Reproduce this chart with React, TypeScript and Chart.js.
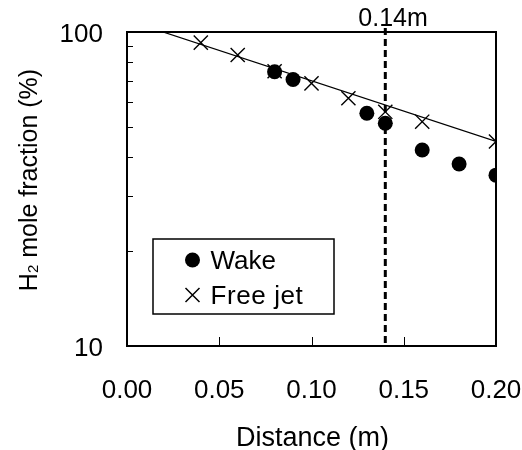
import React, { useEffect, useRef } from "react";
import { Chart, registerables } from "chart.js";

Chart.register(...registerables);

// ---- data ----
const wakeX = [0.08, 0.09, 0.13, 0.14, 0.16, 0.18, 0.2];
const wakeY = [74.7, 70.6, 55.1, 51.2, 42.1, 38.0, 35.0];
const jetX = [0.04, 0.06, 0.08, 0.1, 0.12, 0.14, 0.16, 0.2];
const jetY = [92.5, 84.5, 75.0, 68.6, 61.5, 55.7, 51.8, 44.8];
const fitX = [0.0195, 0.2];
const fitY = [100, 44.8];
const yLabelValues = [10, 100];
const yMinorTicks = [20, 30, 40, 50, 60, 70, 80, 90];
const xTickValues = [0.05, 0.1, 0.15];
const markerX = 0.14;
const markerLabel = "0.14m";
const legendLabels = ["Wake", "Free jet"];
const xTitle = "Distance (m)";
const yTitleMain = "H";
const yTitleSub = "2";
const yTitleRest = " mole fraction (%)";

const FONT = '"Liberation Sans", Arial, sans-serif';

const overlayPlugin = {
  id: "overlay",
  beforeDatasetsDraw(chart: any) {
    const { ctx, chartArea } = chart;
    const xs = chart.scales.x;
    const px = xs.getPixelForValue(markerX);
    ctx.save();
    ctx.strokeStyle = "#000";
    ctx.lineWidth = 3;
    ctx.setLineDash([7, 4]);
    ctx.beginPath();
    ctx.moveTo(px, chartArea.top - 4);
    ctx.lineTo(px, chartArea.bottom);
    ctx.stroke();
    ctx.restore();
  },
  afterDraw(chart: any) {
    const { ctx, chartArea } = chart;
    const xs = chart.scales.x;
    const ys = chart.scales.y;
    const { left, right, top, bottom } = chartArea;
    ctx.save();
    // frame
    ctx.strokeStyle = "#000";
    ctx.lineWidth = 2;
    ctx.strokeRect(left, top, right - left, bottom - top);
    // inward ticks
    ctx.lineWidth = 1;
    ctx.beginPath();
    yMinorTicks.forEach((v) => {
      const y = Math.round(ys.getPixelForValue(v)) + 0.5;
      ctx.moveTo(left, y);
      ctx.lineTo(left + 6, y);
    });
    xTickValues.forEach((v) => {
      const x = Math.round(xs.getPixelForValue(v)) + 0.5;
      ctx.moveTo(x, bottom);
      ctx.lineTo(x, bottom - 9);
    });
    ctx.stroke();

    // marker label
    const mx = xs.getPixelForValue(markerX);
    ctx.fillStyle = "#000";
    ctx.font = `25px ${FONT}`;
    ctx.textAlign = "left";
    ctx.textBaseline = "alphabetic";
    ctx.fillText(markerLabel, mx - 27, 26);

    // legend
    ctx.lineWidth = 1.5;
    ctx.strokeRect(153, 239, 181, 75);
    ctx.beginPath();
    ctx.arc(192.5, 260, 7.5, 0, Math.PI * 2);
    ctx.fill();
    ctx.beginPath();
    ctx.moveTo(185.5, 288);
    ctx.lineTo(199.5, 302);
    ctx.moveTo(199.5, 288);
    ctx.lineTo(185.5, 302);
    ctx.stroke();
    ctx.font = `26px ${FONT}`;
    ctx.fillText(legendLabels[0], 210.5, 269);
    (ctx as any).letterSpacing = "0.6px";
    ctx.fillText(legendLabels[1], 210.5, 304);
    (ctx as any).letterSpacing = "0px";

    // x title
    ctx.font = `27px ${FONT}`;
    ctx.textAlign = "center";
    ctx.fillText(xTitle, 312.5, 446);

    // y title with subscript
    ctx.save();
    ctx.translate(36.7, 180);
    ctx.rotate(-Math.PI / 2);
    ctx.textAlign = "left";
    const mainFont = `25px ${FONT}`;
    const subFont = `15px ${FONT}`;
    ctx.font = mainFont;
    const wH = ctx.measureText(yTitleMain).width;
    const wRest = ctx.measureText(yTitleRest).width;
    ctx.font = subFont;
    const wSub = ctx.measureText(yTitleSub).width;
    const total = wH + wSub + wRest;
    let x0 = -total / 2;
    ctx.font = mainFont;
    ctx.fillText(yTitleMain, x0, 0);
    x0 += wH;
    ctx.font = subFont;
    ctx.fillText(yTitleSub, x0, 1);
    x0 += wSub;
    ctx.font = mainFont;
    ctx.fillText(yTitleRest, x0, 0);
    ctx.restore();

    ctx.restore();
  },
};

export default function App() {
  const ref = useRef<HTMLCanvasElement | null>(null);
  useEffect(() => {
    document.body.style.margin = "0";
    const canvas = ref.current;
    if (!canvas) return;
    const chart = new Chart(canvas, {
      type: "scatter",
      data: {
        datasets: [
          {
            label: "fit",
            data: fitX.map((x, i) => ({ x, y: fitY[i] })),
            showLine: true,
            borderColor: "#000",
            borderWidth: 1.3,
            pointRadius: 0,
            fill: false,
          },
          {
            label: legendLabels[1],
            data: jetX.map((x, i) => ({ x, y: jetY[i] })),
            pointStyle: "crossRot",
            pointRadius: 10,
            borderColor: "#000",
            backgroundColor: "#000",
            pointBorderWidth: 1.4,
            showLine: false,
          },
          {
            label: legendLabels[0],
            data: wakeX.map((x, i) => ({ x, y: wakeY[i] })),
            pointStyle: "circle",
            pointRadius: 7.5,
            borderColor: "#000",
            backgroundColor: "#000",
            pointBorderWidth: 0,
            showLine: false,
          },
        ],
      },
      options: {
        animation: false,
        responsive: false,
        layout: { padding: { left: 0, top: 32, right: 26, bottom: 0 } },
        plugins: {
          legend: { display: false },
          tooltip: { enabled: false },
        },
        scales: {
          x: {
            type: "linear",
            min: 0,
            max: 0.2,
            grid: { display: false, drawTicks: false },
            border: { display: false },
            afterFit: (s: any) => {
              s.height = 104;
              s.paddingLeft = 0;
              s.paddingRight = 0;
            },
            ticks: {
              stepSize: 0.05,
              autoSkip: false,
              maxRotation: 0,
              padding: 29,
              color: "#000",
              font: { family: FONT, size: 26 },
              callback: (v: any) => Number(v).toFixed(2),
            },
          },
          y: {
            type: "logarithmic",
            min: 10,
            max: 100,
            grid: { display: false, drawTicks: false },
            border: { display: false },
            afterFit: (s: any) => {
              s.width = 127;
              s.paddingTop = 0;
              s.paddingBottom = 0;
            },
            ticks: {
              padding: 24,
              labelOffset: 3,
              autoSkip: false,
              color: "#000",
              font: { family: FONT, size: 26 },
              callback: (v: any) =>
                yLabelValues.includes(Number(v)) ? String(v) : "",
            },
          },
        },
      },
      plugins: [overlayPlugin],
    } as any);
    return () => chart.destroy();
  }, []);
  return <canvas ref={ref} width={522} height={450} style={{ display: "block" }} />;
}
